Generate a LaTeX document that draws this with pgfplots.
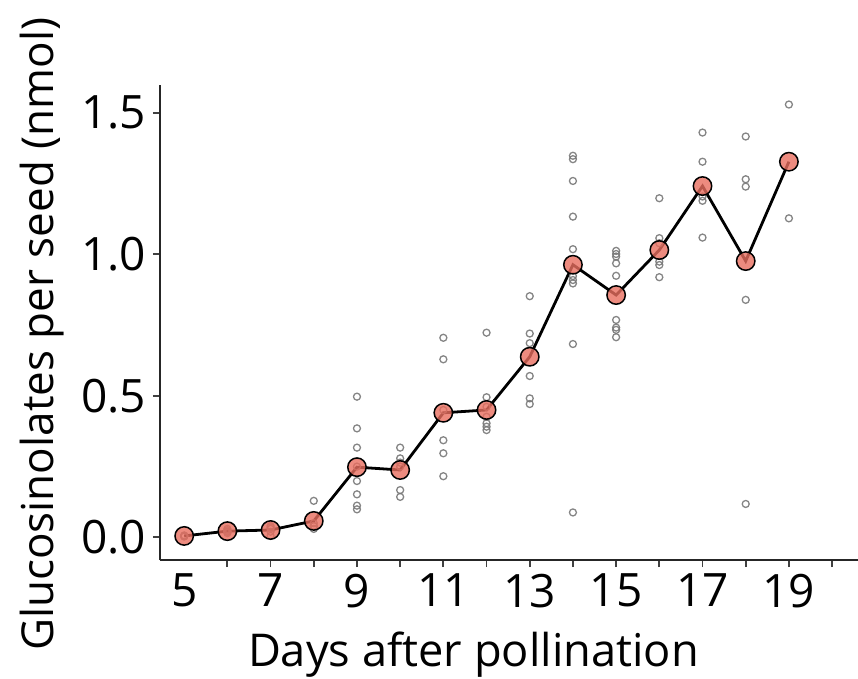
\documentclass[border=0pt]{standalone}
\usepackage{pgfplots}
\pgfplotsset{compat=1.18}
\usepackage{pgfplotstable}
\usepackage{fontspec}
\setmainfont{Open Sans}
\definecolor{meanred}{RGB}{232,110,95}
\definecolor{ptgrey}{RGB}{120,120,120}
\pgfplotstableread{
day val
5 0.003
5 0.005
5 0.007
5 0.004
6 0.015
6 0.020
6 0.025
6 0.030
6 0.020
7 0.005
7 0.020
7 0.030
7 0.040
7 0.035
8 0.129
8 0.050
8 0.040
8 0.040
8 0.030
9 0.497
9 0.385
9 0.317
9 0.199
9 0.152
9 0.112
9 0.099
9 0.250
10 0.317
10 0.279
10 0.264
10 0.167
10 0.143
10 0.250
11 0.705
11 0.629
11 0.343
11 0.297
11 0.216
11 0.450
12 0.723
12 0.495
12 0.461
12 0.426
12 0.403
12 0.391
12 0.379
13 0.852
13 0.720
13 0.686
13 0.570
13 0.491
13 0.471
14 1.348
14 1.336
14 1.259
14 1.133
14 1.018
14 0.923
14 0.909
14 0.897
14 0.683
14 0.088
15 1.012
15 1.001
15 0.992
15 0.968
15 0.924
15 0.768
15 0.741
15 0.733
15 0.707
16 1.198
16 1.057
16 1.039
16 0.974
16 0.962
16 0.919
17 1.430
17 1.327
17 1.204
17 1.189
17 1.059
18 1.416
18 1.265
18 1.239
18 0.839
18 0.118
19 1.529
19 1.127
}\points
\pgfplotstableread{
day mean
5 0.005
6 0.022
7 0.026
8 0.058
9 0.248
10 0.238
11 0.440
12 0.450
13 0.638
14 0.963
15 0.856
16 1.015
17 1.241
18 0.976
19 1.327
}\means
\begin{document}
\begin{tikzpicture}
\begin{axis}[
  scale only axis,
  width=349pt, height=237.5pt,
  xmin=4.44, xmax=20.6,
  ymin=-0.080, ymax=1.598,
  axis x line*=bottom, axis y line*=left,
  axis line style={line width=1pt, color=black!85},
  tick align=outside,
  major tick length=3.5pt,
  tick style={line width=0.9pt, color=black!75},
  xtick={6,...,20},
  xticklabels={,7,,9,,11,,13,,15,,17,,19,},
  extra x ticks={5},
  extra x tick labels={5},
  extra x tick style={major tick style={draw=none}},
  ytick={0,0.5,1,1.5},
  yticklabels={0.0,0.5,1.0,1.5},
  ticklabel style={font=\fontsize{23}{27}\selectfont, color=black},
  /pgf/number format/assume math mode=true,
  xlabel={Days after pollination},
  ylabel={Glucosinolates per seed (nmol)},
  xlabel style={font=\fontsize{22.6}{27}\selectfont, at={(axis description cs:0.449,-0.225)}, anchor=base},
  ylabel style={font=\fontsize{22}{26}\selectfont, at={(axis description cs:-0.169,0.475)}, anchor=center},
  clip=false,
]
\coordinate (SW) at (rel axis cs:0,0);
\coordinate (NE) at (rel axis cs:1,1);
\addplot[only marks, mark=o, mark size=1.75pt, mark options={line width=0.65pt, draw=ptgrey, draw opacity=0.9}] table[x=day, y=val] {\points};
\addplot[line width=1.4pt, black, mark=none] table[x=day, y=mean] {\means};
\addplot[only marks, mark=*, mark size=4.6pt, mark options={line width=0.75pt, draw=black, fill=meanred, fill opacity=0.8}] table[x=day, y=mean] {\means};
\end{axis}
\pgfresetboundingbox
\path[use as bounding box] ([xshift=-80pt,yshift=-59pt]SW) rectangle ([yshift=42.5pt]NE);
\end{tikzpicture}
\end{document}
